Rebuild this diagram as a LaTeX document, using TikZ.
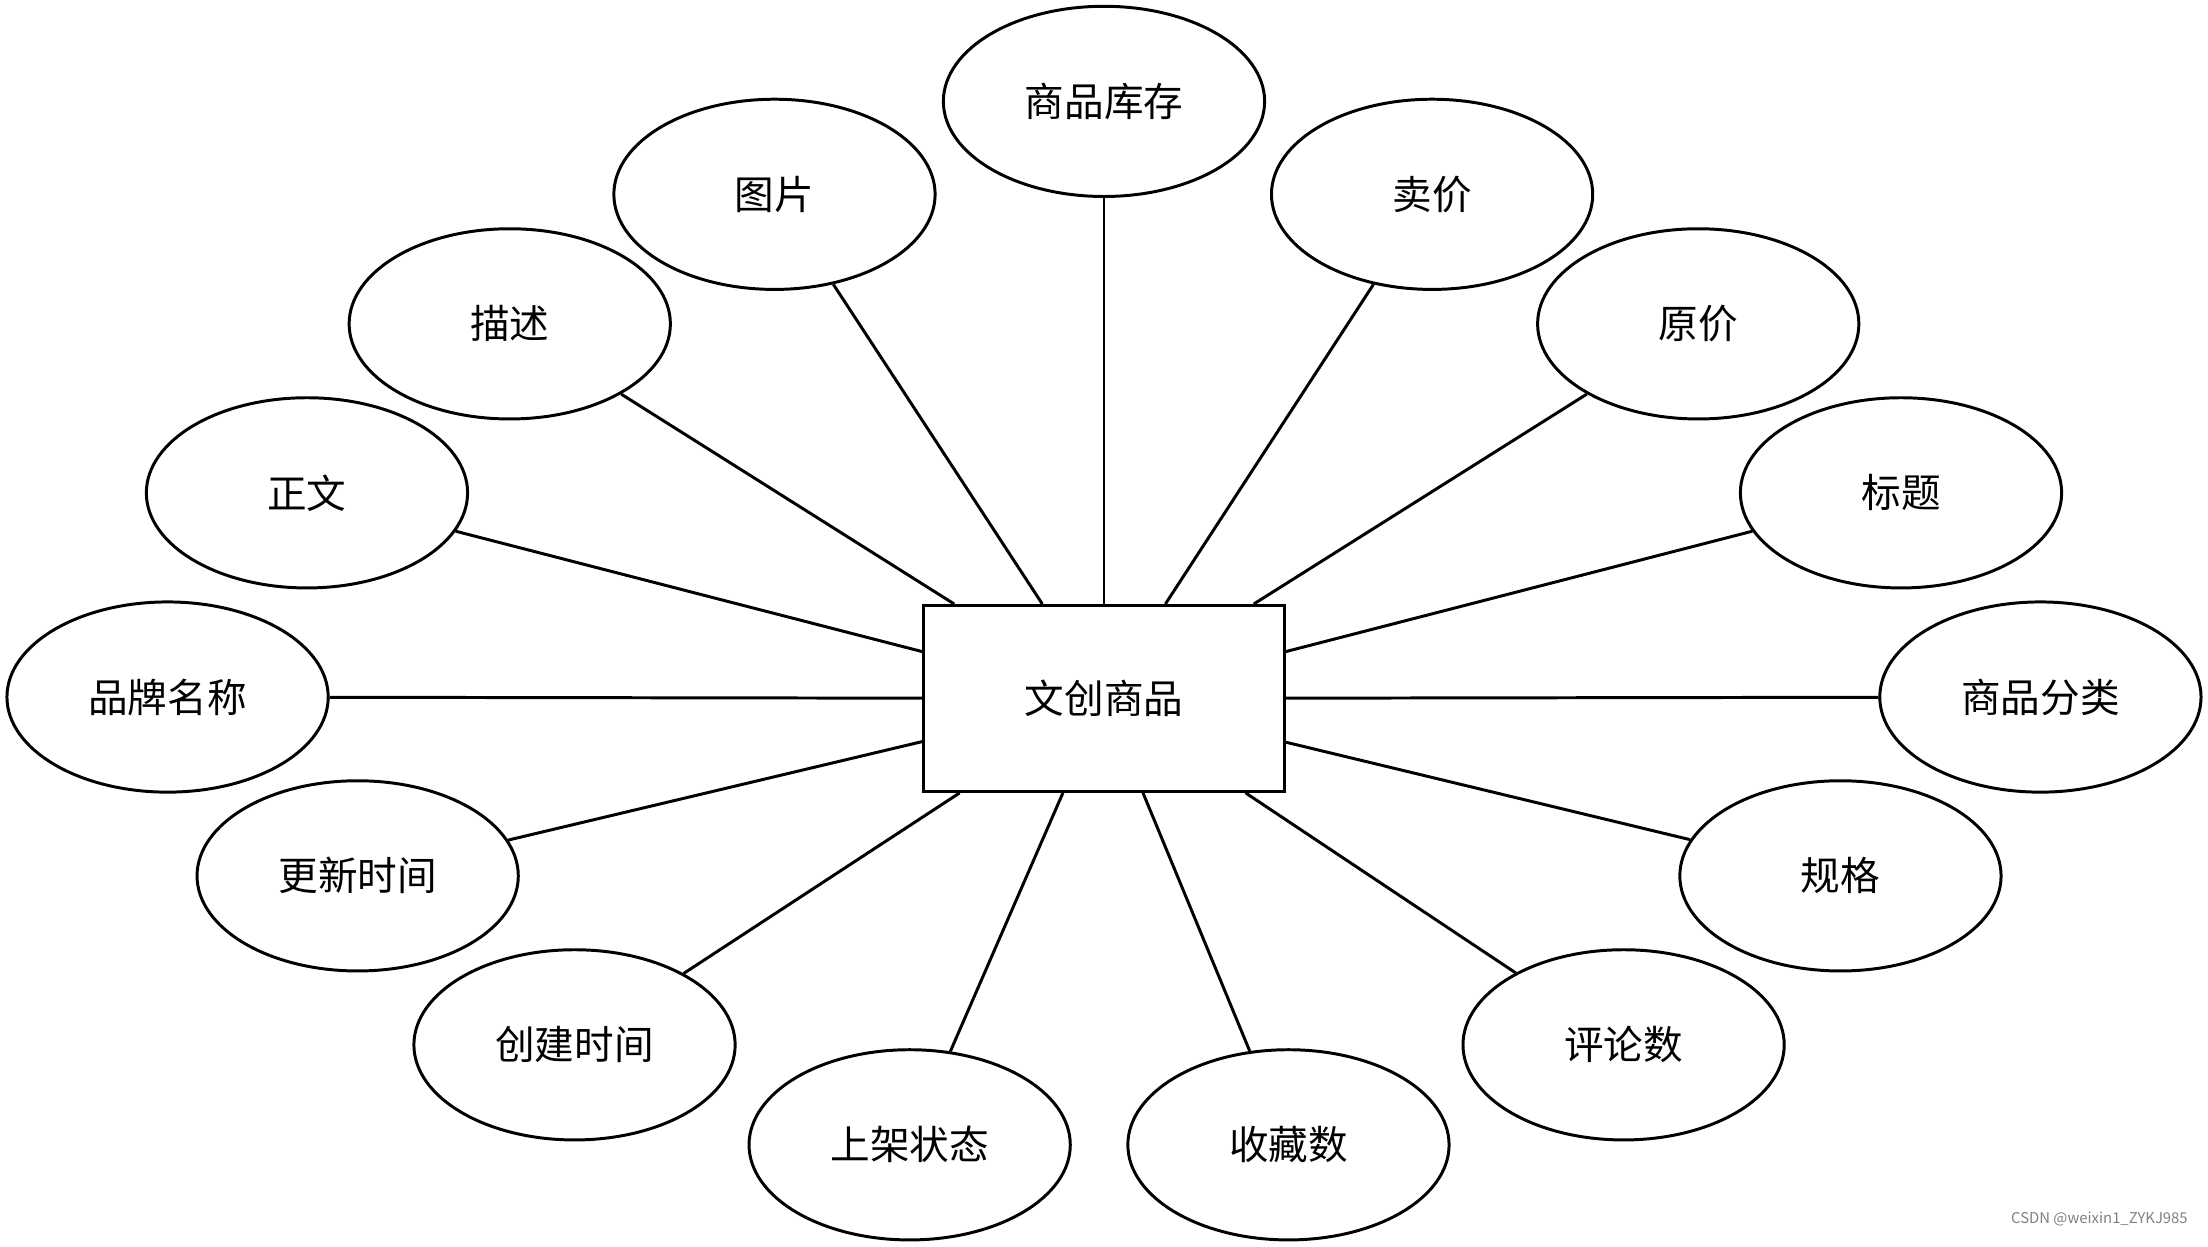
\documentclass[tikz,border=0pt]{standalone}
\usepackage{fontspec}
\setmainfont{Noto Sans CJK SC}
\usetikzlibrary{shapes.geometric}
\begin{document}
\begin{tikzpicture}[x=0.01cm,y=-0.01cm,
  attr/.style={ellipse,draw,line width=0.6pt,minimum width=2.28cm,minimum height=1.35cm,inner sep=0pt,font=\fontsize{8}{9}\selectfont},
  ent/.style={rectangle,draw,line width=0.6pt,minimum width=2.56cm,minimum height=1.32cm,font=\fontsize{8}{9}\selectfont},
  conn/.style={line width=0.6pt}]
\useasboundingbox (0,0) rectangle (1568,885);
\node[ent] (e) at (784,496) {文创商品};
\node[attr] (a1) at (784,72) {商品库存};
\node[attr] (a2) at (550,138) {图片};
\node[attr] (a3) at (1017,138) {卖价};
\node[attr] (a4) at (362,230) {描述};
\node[attr] (a5) at (1206,230) {原价};
\node[attr] (a6) at (218,350) {正文};
\node[attr] (a7) at (1350,350) {标题};
\node[attr] (a8) at (119,495) {品牌名称};
\node[attr] (a9) at (1449,495) {商品分类};
\node[attr] (a10) at (254,622) {更新时间};
\node[attr] (a11) at (1307,622) {规格};
\node[attr] (a12) at (408,742) {创建时间};
\node[attr] (a13) at (1153,742) {评论数};
\node[attr] (a14) at (646,813) {上架状态};
\node[attr] (a15) at (915,813) {收藏数};
\foreach \i in {1,...,15} \draw[conn] (e) -- (a\i);
\node[anchor=south east,font=\fontsize{3}{4}\selectfont,text=gray] (wm) at (1566,883) {CSDN @weixin1\_ZYKJ985};
\end{tikzpicture}
\end{document}
